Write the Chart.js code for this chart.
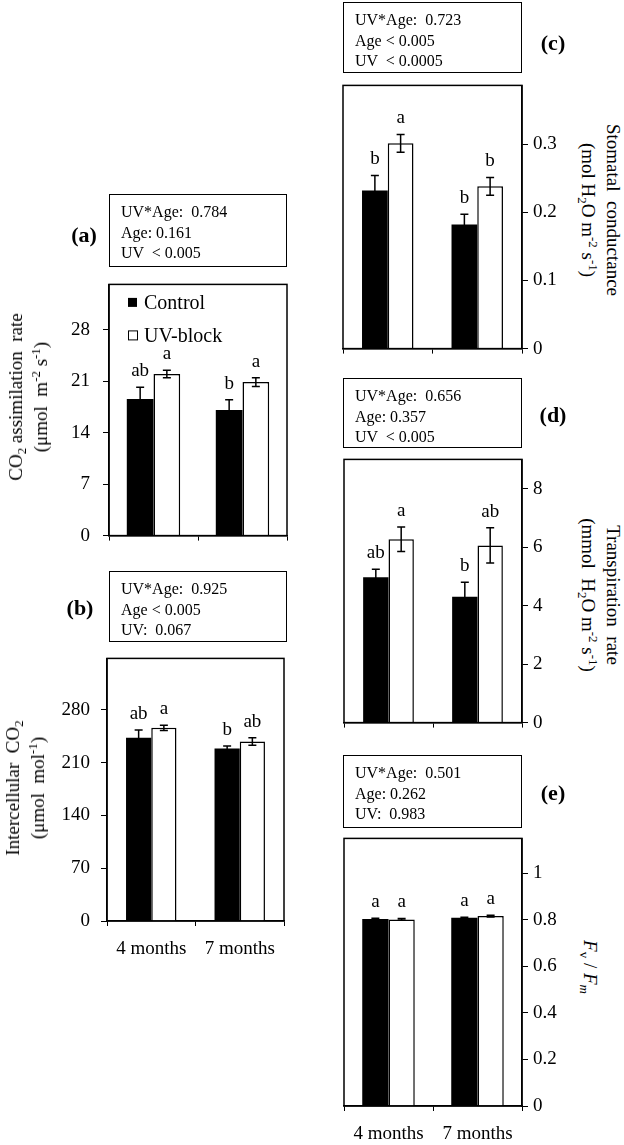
<!DOCTYPE html>
<html>
<head>
<meta charset="utf-8">
<script src="https://cdn.jsdelivr.net/npm/chart.js@4.4.0/dist/chart.umd.min.js"></script>
<style>
body { margin: 0; background: #fff; }
#fig { position: relative; width: 624px; height: 1145px; font-family: "Liberation Serif", "Times New Roman", serif; color: #000; }
canvas { position: absolute; }
.stats { position: absolute; box-sizing: border-box; border: 1.5px solid #000; font-size: 16px; line-height: 20.5px; padding: 7px 0 0 11px; white-space: pre; }
.plab { position: absolute; transform: translate(-50%, -50%); font-weight: bold; font-size: 22px; }
.ytitle { position: absolute; transform: translate(-50%, -50%) rotate(-90deg); white-space: nowrap; text-align: center; font-size: 19px; line-height: 25px; }
.ytitle.r { transform: translate(-50%, -50%) rotate(90deg); }
sub, sup { font-size: 0.68em; line-height: 0; }
sup { vertical-align: 0.55em; }
sub { vertical-align: -0.3em; }
</style>
</head>
<body>
<div id="fig">
  <canvas id="ca" width="260" height="300" style="left:40px;top:260px"></canvas>
  <canvas id="cb" width="257" height="336" style="left:40px;top:636px"></canvas>
  <canvas id="cc" width="240" height="296" style="left:333px;top:69px"></canvas>
  <canvas id="cd" width="240" height="296" style="left:334px;top:443px"></canvas>
  <canvas id="ce" width="240" height="323" style="left:334px;top:822px"></canvas>

  <div class="stats" id="sa" style="left:109px;top:194px;width:178px;height:73px"></div>
  <div class="stats" id="sb" style="left:109px;top:571px;width:178px;height:71px"></div>
  <div class="stats" id="sc" style="left:343px;top:2px;width:179px;height:71px"></div>
  <div class="stats" id="sd" style="left:343px;top:378px;width:179px;height:70px"></div>
  <div class="stats" id="se" style="left:343px;top:755px;width:179px;height:73px"></div>

  <div class="plab" style="left:84px;top:235px">(a)</div>
  <div class="plab" style="left:80px;top:608px">(b)</div>
  <div class="plab" style="left:553px;top:43px">(c)</div>
  <div class="plab" style="left:553px;top:415px">(d)</div>
  <div class="plab" style="left:553px;top:793px">(e)</div>

  <div class="ytitle" style="left:28px;top:397px">CO<sub>2</sub> assimilation&nbsp; rate<br>(μmol&nbsp; m<sup>-2</sup> s<sup>-1</sup>)</div>
  <div class="ytitle" style="left:25px;top:788px">Intercellular&nbsp; CO<sub>2</sub><br>(μmol&nbsp; mol<sup>-1</sup>)</div>
  <div class="ytitle r" style="left:601px;top:210px">Stomatal&nbsp; conductance<br>(mol H<sub>2</sub>O m<sup>-2</sup> s<sup>-1</sup>)</div>
  <div class="ytitle r" style="left:601px;top:595px">Transpiration&nbsp; rate<br>(mmol&nbsp; H<sub>2</sub>O m<sup>-2</sup> s<sup>-1</sup>)</div>
  <div class="ytitle r" style="left:590px;top:967px"><i>F</i><sub>v</sub> / <i>F</i><sub><i>m</i></sub></div>
</div>

<script>
var months = ['4 months', '7 months'];
var seriesNames = ['Control', 'UV-block'];

// (a) CO2 assimilation rate
var aControl = [18.6, 17.1];
var aControlErr = [1.6, 1.4];
var aUV = [22.0, 20.9];
var aUVErr = [0.5, 0.6];
var aControlLetters = ['ab', 'b'];
var aUVLetters = ['a', 'a'];
var aTicks = [0, 7, 14, 21, 28];
var aStats = ['UV*Age:  0.784', 'Age: 0.161', 'UV  < 0.005'];

// (b) intercellular CO2
var bControl = [243, 228.5];
var bControlErr = [10, 3.5];
var bUV = [256, 238];
var bUVErr = [3.5, 5];
var bControlLetters = ['ab', 'b'];
var bUVLetters = ['a', 'ab'];
var bTicks = [0, 70, 140, 210, 280];
var bStats = ['UV*Age:  0.925', 'Age < 0.005', 'UV:  0.067'];

// (c) stomatal conductance
var cControl = [0.232, 0.182];
var cControlErr = [0.022, 0.015];
var cUV = [0.301, 0.238];
var cUVErr = [0.013, 0.013];
var cControlLetters = ['b', 'b'];
var cUVLetters = ['a', 'b'];
var cTicks = [0, 0.1, 0.2, 0.3];
var cStats = ['UV*Age:  0.723', 'Age < 0.005', 'UV  < 0.0005'];

// (d) transpiration rate
var dControl = [4.97, 4.30];
var dControlErr = [0.27, 0.5];
var dUV = [6.27, 6.06];
var dUVErr = [0.42, 0.6];
var dControlLetters = ['ab', 'b'];
var dUVLetters = ['a', 'ab'];
var dTicks = [0, 2, 4, 6, 8];
var dStats = ['UV*Age:  0.656', 'Age: 0.357', 'UV  < 0.005'];

// (e) Fv/Fm
var eControl = [0.804, 0.809];
var eControlErr = [0.003, 0.002];
var eUV = [0.802, 0.816];
var eUVErr = [0.004, 0.004];
var eControlLetters = ['a', 'a'];
var eUVLetters = ['a', 'a'];
var eTicks = [0, 0.2, 0.4, 0.6, 0.8, 1];
var eStats = ['UV*Age:  0.501', 'Age: 0.262', 'UV:  0.983'];

var FONT = '"Liberation Serif", "Times New Roman", serif';

document.getElementById('sa').textContent = aStats.join('\n');
document.getElementById('sb').textContent = bStats.join('\n');
document.getElementById('sc').textContent = cStats.join('\n');
document.getElementById('sd').textContent = dStats.join('\n');
document.getElementById('se').textContent = eStats.join('\n');

// error bars, significance letters, plot frame and (optional) legend
var errBars = {
    id: 'errbars',
    afterDatasetsDraw: function(chart) {
        var ctx = chart.ctx;
        var y = chart.scales.y;
        var opts = chart.options.plugins.errbars;
        ctx.save();
        ctx.strokeStyle = '#000';
        ctx.fillStyle = '#000';
        ctx.lineWidth = 1.5;
        chart.data.datasets.forEach(function(ds, i) {
            var meta = chart.getDatasetMeta(i);
            meta.data.forEach(function(bar, j) {
                var top = y.getPixelForValue(ds.data[j] + ds.err[j]);
                var bot = y.getPixelForValue(ds.data[j] - ds.err[j]);
                ctx.beginPath();
                ctx.moveTo(bar.x, top); ctx.lineTo(bar.x, bot);
                ctx.moveTo(bar.x - 4, top); ctx.lineTo(bar.x + 4, top);
                ctx.moveTo(bar.x - 4, bot); ctx.lineTo(bar.x + 4, bot);
                ctx.stroke();
                ctx.font = '19px ' + FONT;
                ctx.textAlign = 'center';
                ctx.textBaseline = 'alphabetic';
                ctx.fillText(ds.letters[j], bar.x, top - 11);
            });
        });
        var a = chart.chartArea;
        ctx.strokeRect(a.left, a.top, a.right - a.left, a.bottom - a.top);
        if (opts.legend) {
            ctx.font = '20px ' + FONT;
            ctx.textAlign = 'left';
            ctx.textBaseline = 'middle';
            chart.data.datasets.forEach(function(ds, i) {
                var ly = a.top + 18 + i * 33;
                ctx.lineWidth = 1;
                if (i == 0) ctx.fillRect(a.left + 19, ly - 4.5, 9, 9);
                else ctx.strokeRect(a.left + 19.5, ly - 4.5, 9, 9);
                ctx.fillText(ds.label, a.left + 35, ly + 1);
            });
        }
        ctx.restore();
    }
};

function fmt(v) {
    return String(Math.round(v * 1000) / 1000);
}

function makeChart(id, c, s) {
    var ctx = document.getElementById(id);
    return new Chart(ctx, {
        type: 'bar',
        data: {
            labels: months,
            datasets: [
                {
                    label: seriesNames[0],
                    data: c.control,
                    err: c.controlErr,
                    letters: c.controlLetters,
                    backgroundColor: '#000',
                    borderColor: '#000',
                    borderWidth: 0
                },
                {
                    label: seriesNames[1],
                    data: c.uv,
                    err: c.uvErr,
                    letters: c.uvLetters,
                    backgroundColor: '#fff',
                    borderColor: '#000',
                    borderWidth: 1.5
                }
            ]
        },
        options: {
            responsive: false,
            animation: false,
            categoryPercentage: s.cat,
            barPercentage: 1,
            layout: { autoPadding: false, padding: s.pad },
            plugins: {
                legend: { display: false },
                tooltip: { enabled: false },
                errbars: { legend: s.legend }
            },
            scales: {
                x: {
                    offset: true,
                    border: { display: true, color: '#000', width: 1.5 },
                    grid: { offset: true, drawOnChartArea: false, drawTicks: true, tickLength: 5, color: '#000', lineWidth: 1 },
                    ticks: { display: s.xlabels, color: '#000', padding: 12, maxRotation: 0, font: { family: FONT, size: 19 } },
                    afterFit: function(scale) { scale.height = s.xh; }
                },
                y: {
                    position: s.ypos,
                    min: 0,
                    max: s.max,
                    border: { display: true, color: '#000', width: 1.5 },
                    grid: { drawOnChartArea: false, drawTicks: true, tickLength: 6, color: '#000', lineWidth: 1 },
                    ticks: { color: '#000', padding: s.tpad, font: { family: FONT, size: 19 }, callback: fmt },
                    afterBuildTicks: function(scale) {
                        scale.ticks = c.ticks.map(function(v) { return { value: v }; });
                    },
                    afterFit: function(scale) { scale.width = s.yw; }
                }
            }
        },
        plugins: [errBars]
    });
}

makeChart('ca',
    { control: aControl, controlErr: aControlErr, uv: aUV, uvErr: aUVErr, controlLetters: aControlLetters, uvLetters: aUVLetters, ticks: aTicks },
    { cat: 0.6, pad: { top: 10, right: 13, left: 0, bottom: 0 }, legend: true, xlabels: false, xh: 14, ypos: 'left', max: 34.2, tpad: 13, yw: 69 });

makeChart('cb',
    { control: bControl, controlErr: bControlErr, uv: bUV, uvErr: bUVErr, controlLetters: bControlLetters, uvLetters: bUVLetters, ticks: bTicks },
    { cat: 0.57, pad: { top: 10, right: 13, left: 0, bottom: 0 }, legend: false, xlabels: true, xh: 51, ypos: 'left', max: 348, tpad: 11, yw: 67 });

makeChart('cc',
    { control: cControl, controlErr: cControlErr, uv: cUV, uvErr: cUVErr, controlLetters: cControlLetters, uvLetters: cUVLetters, ticks: cTicks },
    { cat: 0.575, pad: { top: 10, right: 0, left: 10, bottom: 0 }, legend: false, xlabels: false, xh: 12, ypos: 'right', max: 0.386, tpad: 5, yw: 51 });

makeChart('cd',
    { control: dControl, controlErr: dControlErr, uv: dUV, uvErr: dUVErr, controlLetters: dControlLetters, uvLetters: dUVLetters, ticks: dTicks },
    { cat: 0.57, pad: { top: 10, right: 0, left: 10, bottom: 0 }, legend: false, xlabels: false, xh: 12, ypos: 'right', max: 9, tpad: 5, yw: 52 });

makeChart('ce',
    { control: eControl, controlErr: eControlErr, uv: eUV, uvErr: eUVErr, controlLetters: eControlLetters, uvLetters: eUVLetters, ticks: eTicks },
    { cat: 0.59, pad: { top: 10, right: 0, left: 10, bottom: 0 }, legend: false, xlabels: true, xh: 39, ypos: 'right', max: 1.15, tpad: 5, yw: 52 });
</script>
</body>
</html>
